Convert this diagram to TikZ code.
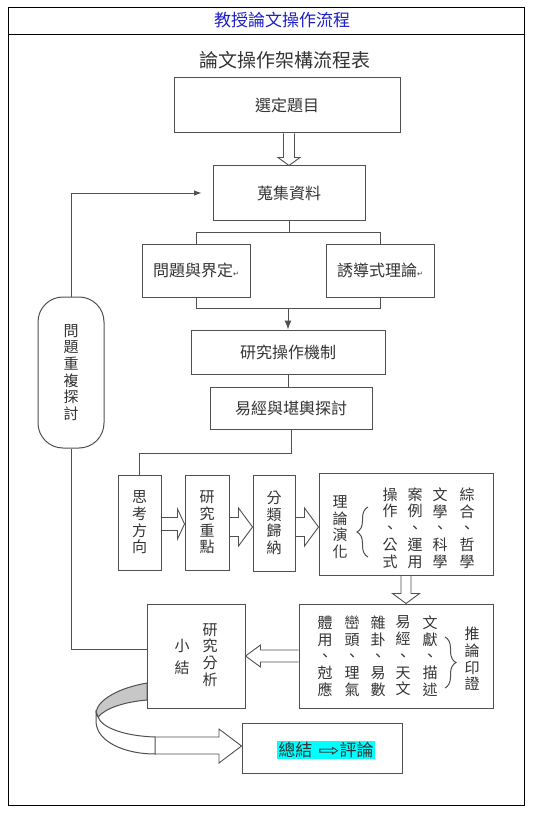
\documentclass[tikz,border=0pt]{standalone}
\usepackage{fontspec}
\setmainfont{Noto Sans CJK TC}
\newfontfamily\symfont{DejaVu Sans}
\usetikzlibrary{arrows.meta,positioning,calc,decorations.pathreplacing}
\definecolor{titleblue}{RGB}{30,30,200}
\definecolor{linegray}{RGB}{80,80,80}
\definecolor{hlcyan}{RGB}{0,255,255}
% hollow block arrow: start, tip, shaft half width, head half width, head length
\newcommand{\blockarrow}[5]{%
  \path ($(#2)!#5!(#1)$) coordinate (ba-h);
  \draw[barrow] ($(#1)!#3!90:(#2)$) -- ($(ba-h)!#3!90:(#2)$) -- ($(ba-h)!#4!90:(#2)$) -- (#2)
    -- ($(ba-h)!#4!-90:(#2)$) -- ($(ba-h)!#3!-90:(#2)$) -- ($(#1)!#3!-90:(#2)$);}

\begin{document}
\begin{tikzpicture}[x=1pt,y=-1pt,line width=1pt,>=Latex,
  box/.style={draw=linegray,inner sep=0pt,text=black!80,font=\fontsize{16}{19}\selectfont},
  vbox/.style={box,align=center,font=\fontsize{15}{16.7}\selectfont},
  coltext/.style={inner sep=0pt,align=center,text=black!80,font=\fontsize{15}{16.7}\selectfont},
  barrow/.style={draw=linegray,line width=0.9pt,line join=miter},
  link/.style={draw=linegray},
  curly/.style={draw=linegray,decorate,decoration={brace,amplitude=11pt}}]
\useasboundingbox (0,0) rectangle (534,813);
% frame and headings
\draw (8,8) rectangle (524,805);
\draw (8,35) -- (524,35);
\node[text=titleblue,font=\fontsize{17}{20}\selectfont] (title) at (282,20) {教授論文操作流程};
\node[text=black!80,font=\fontsize{19}{22}\selectfont] (subtitle) at (285,60) {論文操作架構流程表};
% upper part
\node[box,minimum width=226,minimum height=55] (topic) at (287,105.5) {選定題目};
\node[box,minimum width=152,minimum height=54] (collect) at (289,193) {蒐集資料};
\node[box,minimum width=108,minimum height=53] (problem) at (196,270.5) {問題與界定{\symfont\fontsize{7}{7}\selectfont ↵}};
\node[box,minimum width=108,minimum height=53] (induct) at (380,270.5) {誘導式理論{\symfont\fontsize{7}{7}\selectfont ↵}};
\node[box,minimum width=194,minimum height=44] (mech) at (288,352) {研究操作機制};
\node[box,minimum width=162,minimum height=42] (easy) at (291,408) {易經與堪輿探討};
\node[vbox,rounded corners=25pt,minimum width=66,minimum height=151] (review) at (71,372.5) {問\\題\\重\\複\\探\\討};
\coordinate (a1s) at (topic.south -| collect.north);
\blockarrow{a1s}{collect.north}{5.5pt}{11pt}{8pt}
\draw[link] (collect.south) -- ++(0,12) coordinate (split);
\draw[link] (problem.north) |- (split) -| (induct.north);
\draw[link] (problem.south) -- ++(0,11) coordinate (p1) -| (induct.south);
\draw[link,-{Latex[length=9pt,width=7pt]}] (p1 -| mech.north) -- (mech.north);
\draw[link] (mech.south) -- (mech.south |- easy.north);
% middle row
\node[vbox,minimum width=43,minimum height=95] (think) at (139.5,522.5) {思\\考\\方\\向};
\node[vbox,minimum width=44,minimum height=95] (focus) at (207,522.5) {研\\究\\重\\點};
\node[vbox,minimum width=42,minimum height=96] (classify) at (274,523) {分\\類\\歸\\納};
\node[box,minimum width=174,minimum height=102] (theory) at (406,524) {};
\node[coltext] (theory-t) at (340,527) {理\\論\\演\\化};
\foreach \cx/\ctxt [count=\i] in {390/操\\作\\、\\公\\式,415/案\\例\\、\\運\\用,440/文\\學\\、\\科\\學,467/綜\\合\\、\\哲\\學}
  \node[coltext] (theory-c\i) at (\cx,528) {\ctxt};
\draw[curly] (368,557) -- (368,507);
\draw[link] (easy.south) -- ++(0,24) -| (think.north);
\coordinate (a2s) at ($(think.east)+(0,1.5)$);
\coordinate (a2e) at (a2s -| focus.west);
\blockarrow{a2s}{a2e}{6.5pt}{15pt}{7pt}
\coordinate (a3s) at ($(focus.east)+(0,4.5)$);
\coordinate (a3e) at (a3s -| classify.west);
\blockarrow{a3s}{a3e}{9.5pt}{19pt}{14pt}
\coordinate (a4s) at ($(classify.east)+(0,4)$);
\coordinate (a4e) at (a4s -| theory.west);
\blockarrow{a4s}{a4e}{9.5pt}{19pt}{14pt}
% lower part
\node[box,minimum width=194,minimum height=104] (infer) at (396,656) {};
\foreach \cx/\ctxt [count=\i] in {325/體\\用\\、\\尅\\應,352/巒\\頭\\、\\理\\氣,378/雜\\卦\\、\\易\\數,403/易\\經\\、\\天\\文,430/文\\獻\\、\\描\\述}
  \node[coltext] (infer-c\i) at (\cx,656) {\ctxt};
\draw[curly] (445,637) -- (445,688);
\node[coltext] (infer-t) at (472,659) {推\\論\\印\\證};
\coordinate (a5e) at (theory.south |- infer.north);
\blockarrow{theory.south}{a5e}{5pt}{13.5pt}{10pt}
\node[box,minimum width=98,minimum height=104] (summary) at (196,656) {};
\node[coltext] (summary-a) at (182,657) {小\\[5pt]結};
\node[coltext] (summary-b) at (210,655) {研\\究\\分\\析};
\coordinate (a6e) at (summary.east);
\blockarrow{infer.west}{a6e}{6pt}{11pt}{15pt}
\node[box,minimum width=160,minimum height=50] (final) at (322,748) {};
\node[fill=hlcyan,inner sep=1.5pt,text=black!80,font=\fontsize{17}{20}\selectfont] (final-t) at (326,750) {總結\hspace{6pt}{\symfont\scalebox{1.5}[1]{⇨}}評論};
% loop back
\draw[link,->,shorten >=11pt] (review.north) |- (collect.west);
\draw[link] (review.south) |- ($(summary.west)+(0,-7)$);
% curved arrow
\filldraw[fill=black!22,draw=linegray] (147,683) .. controls (118,688) and (98,700) .. (96,712) -- (98,717) .. controls (106,708) and (124,702) .. (147,700) -- cycle;
\filldraw[fill=white,draw=linegray] (96,712) -- (96,722) .. controls (97,742) and (125,754) .. (155,754) -- (155,737) .. controls (125,736) and (102,728) .. (98,717) -- cycle;
\draw[barrow] (155,737) -- (219,737) -- (219,729) -- (final.west |- 0,746) -- (219,763) -- (219,754) -- (155,754);
\end{tikzpicture}
\end{document}
